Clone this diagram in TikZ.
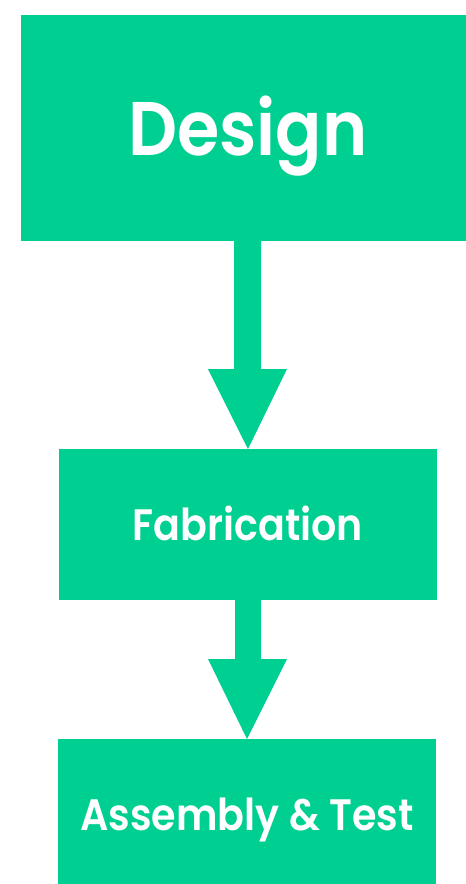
\documentclass[tikz,border=0pt]{standalone}
\usepackage{fontspec}
\setmainfont{Poppins}[BoldFont={Poppins SemiBold}]
\definecolor{mint}{HTML}{00CF92}
\begin{document}
\begin{tikzpicture}[x=1pt,y=-1pt,
  box/.style={fill=mint,draw=none},
  lbl/.style={text=white,font=\bfseries,inner sep=0pt,anchor=base},
  bigarrow/.style={fill=mint,draw=none}]
\useasboundingbox (0,0) rectangle (466,884);
% boxes
\fill[box] (21,15) rectangle (466,241);
\fill[box] (59,449) rectangle (437,600);
\fill[box] (58,739) rectangle (436,884);
% labels
\node[lbl,xscale=0.9,font=\bfseries\fontsize{76}{80}\selectfont] (tD) at (248,155) {Design};
\node[lbl,xscale=0.9,font=\bfseries\fontsize{44}{48}\selectfont] (tF) at (248,540) {Fabrication};
\node[lbl,xscale=0.9,font=\bfseries\fontsize{44}{48}\selectfont] (tA) at (247,830) {Assembly \& Test};
% arrows
\fill[bigarrow] (234,240) -- (261,240) -- (261,369) -- (287,369) -- (248,449) -- (208,369) -- (234,369) -- cycle;
\fill[bigarrow] (235,599) -- (261,599) -- (261,659) -- (287,659) -- (247,739) -- (208,659) -- (235,659) -- cycle;
\end{tikzpicture}
\end{document}
